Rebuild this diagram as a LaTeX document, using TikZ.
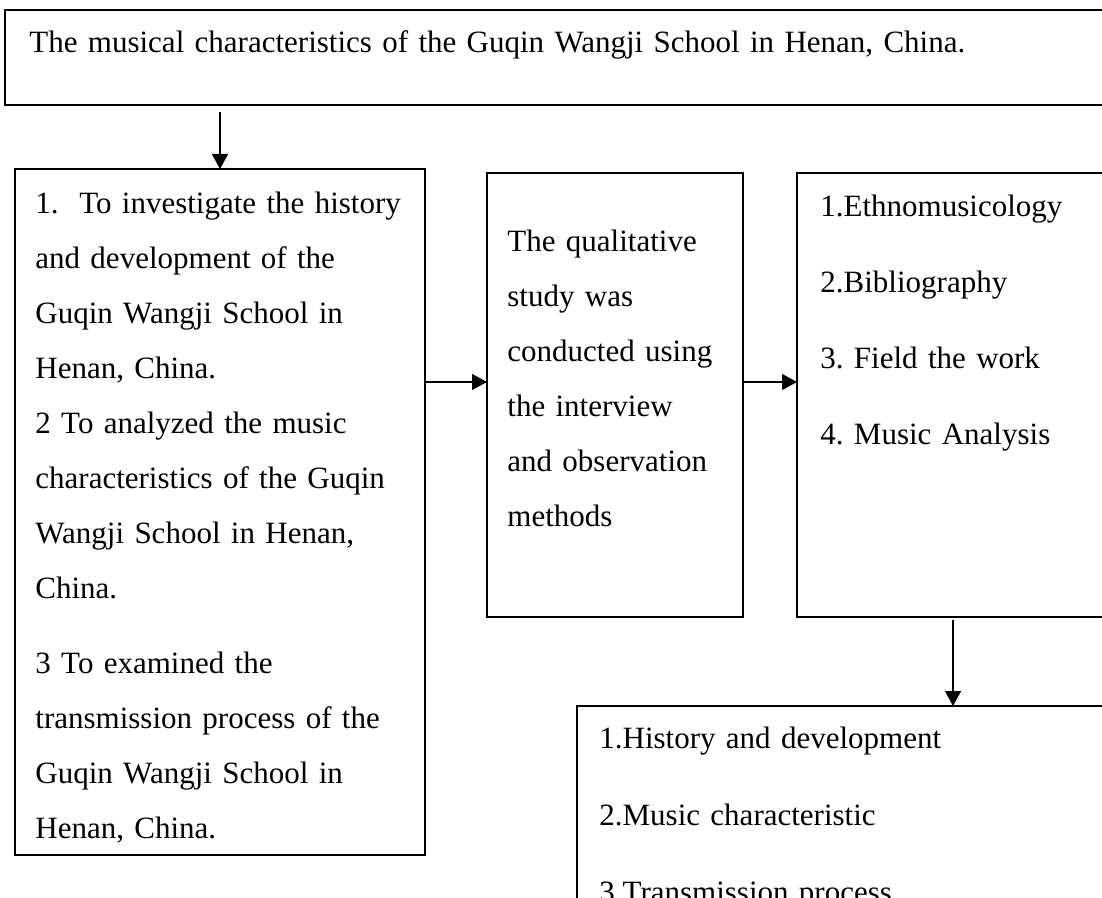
\documentclass[tikz,border=0pt]{standalone}
\usepackage{fontspec}
\setmainfont{Liberation Serif}
\usetikzlibrary{arrows.meta}
\frenchspacing

\begin{document}
\begin{tikzpicture}[x=0.5pt,y=-0.5pt,
  box/.style={draw,line width=1.15pt,inner sep=0,outer sep=0,anchor=north west},
  txt/.style={anchor=base west,inner sep=0,align=left,text width=#1,font=\fontsize{15.5}{27.5}\selectfont},
  arr/.style={-{Triangle[length=7.5pt,width=8pt]},line width=0.65pt}]

\useasboundingbox (0,0) rectangle (1102,898);
\clip (0,0) rectangle (1102,898);

% boxes
\node[box,minimum width=562.5pt,minimum height=47.5pt] (top) at (5,10) {};
\node[box,minimum width=205pt,minimum height=343pt] (lbox) at (15,169) {};
\node[box,minimum width=128pt,minimum height=222pt] (mbox) at (487,173) {};
\node[box,minimum width=156pt,minimum height=222pt] (rbox) at (797,173) {};
\node[box,minimum width=276.5pt,minimum height=127pt] (bbox) at (577,706) {};

% texts
\node[txt=540pt] (toptxt) at (29,53) {The musical characteristics of the Guqin Wangji School in Henan, China.};
\node[txt=195pt] (ltxt) at (35,214) {1.\ \ To investigate the history\\
and development of the\\
Guqin Wangji School in\\
Henan, China.\\
2 To analyzed the music\\
characteristics of the Guqin\\
Wangji School in Henan,\\
China.\\[10pt]
3 To examined the\\
transmission process of the\\
Guqin Wangji School in\\
Henan, China.};
\node[txt=120pt] (mtxt) at (507,252) {The qualitative\\
study was\\
conducted using\\
the interview\\
and observation\\
methods};
\node[txt=140pt] (rtxt) at (820,217) {1.Ethnomusicology\\[10.5pt]
2.Bibliography\\[10.5pt]
3. Field the work\\[10.5pt]
4. Music Analysis};
\node[txt=260pt] (btxt) at (599,748) {1.History and development\\[11pt]
2.Music characteristic\\[11pt]
3.Transmission process};

% arrows
\coordinate (row) at (0,382);
\draw[arr,shorten <=3.5pt] (top.south -| lbox.north) -- (lbox.north);
\draw[arr] (lbox.east |- row) -- (mbox.west |- row);
\draw[arr] (mbox.east |- row) -- (rbox.west |- row);
\draw[arr,shorten <=1.5pt] (rbox.south) -- (bbox.north -| rbox.south);
\end{tikzpicture}
\end{document}
